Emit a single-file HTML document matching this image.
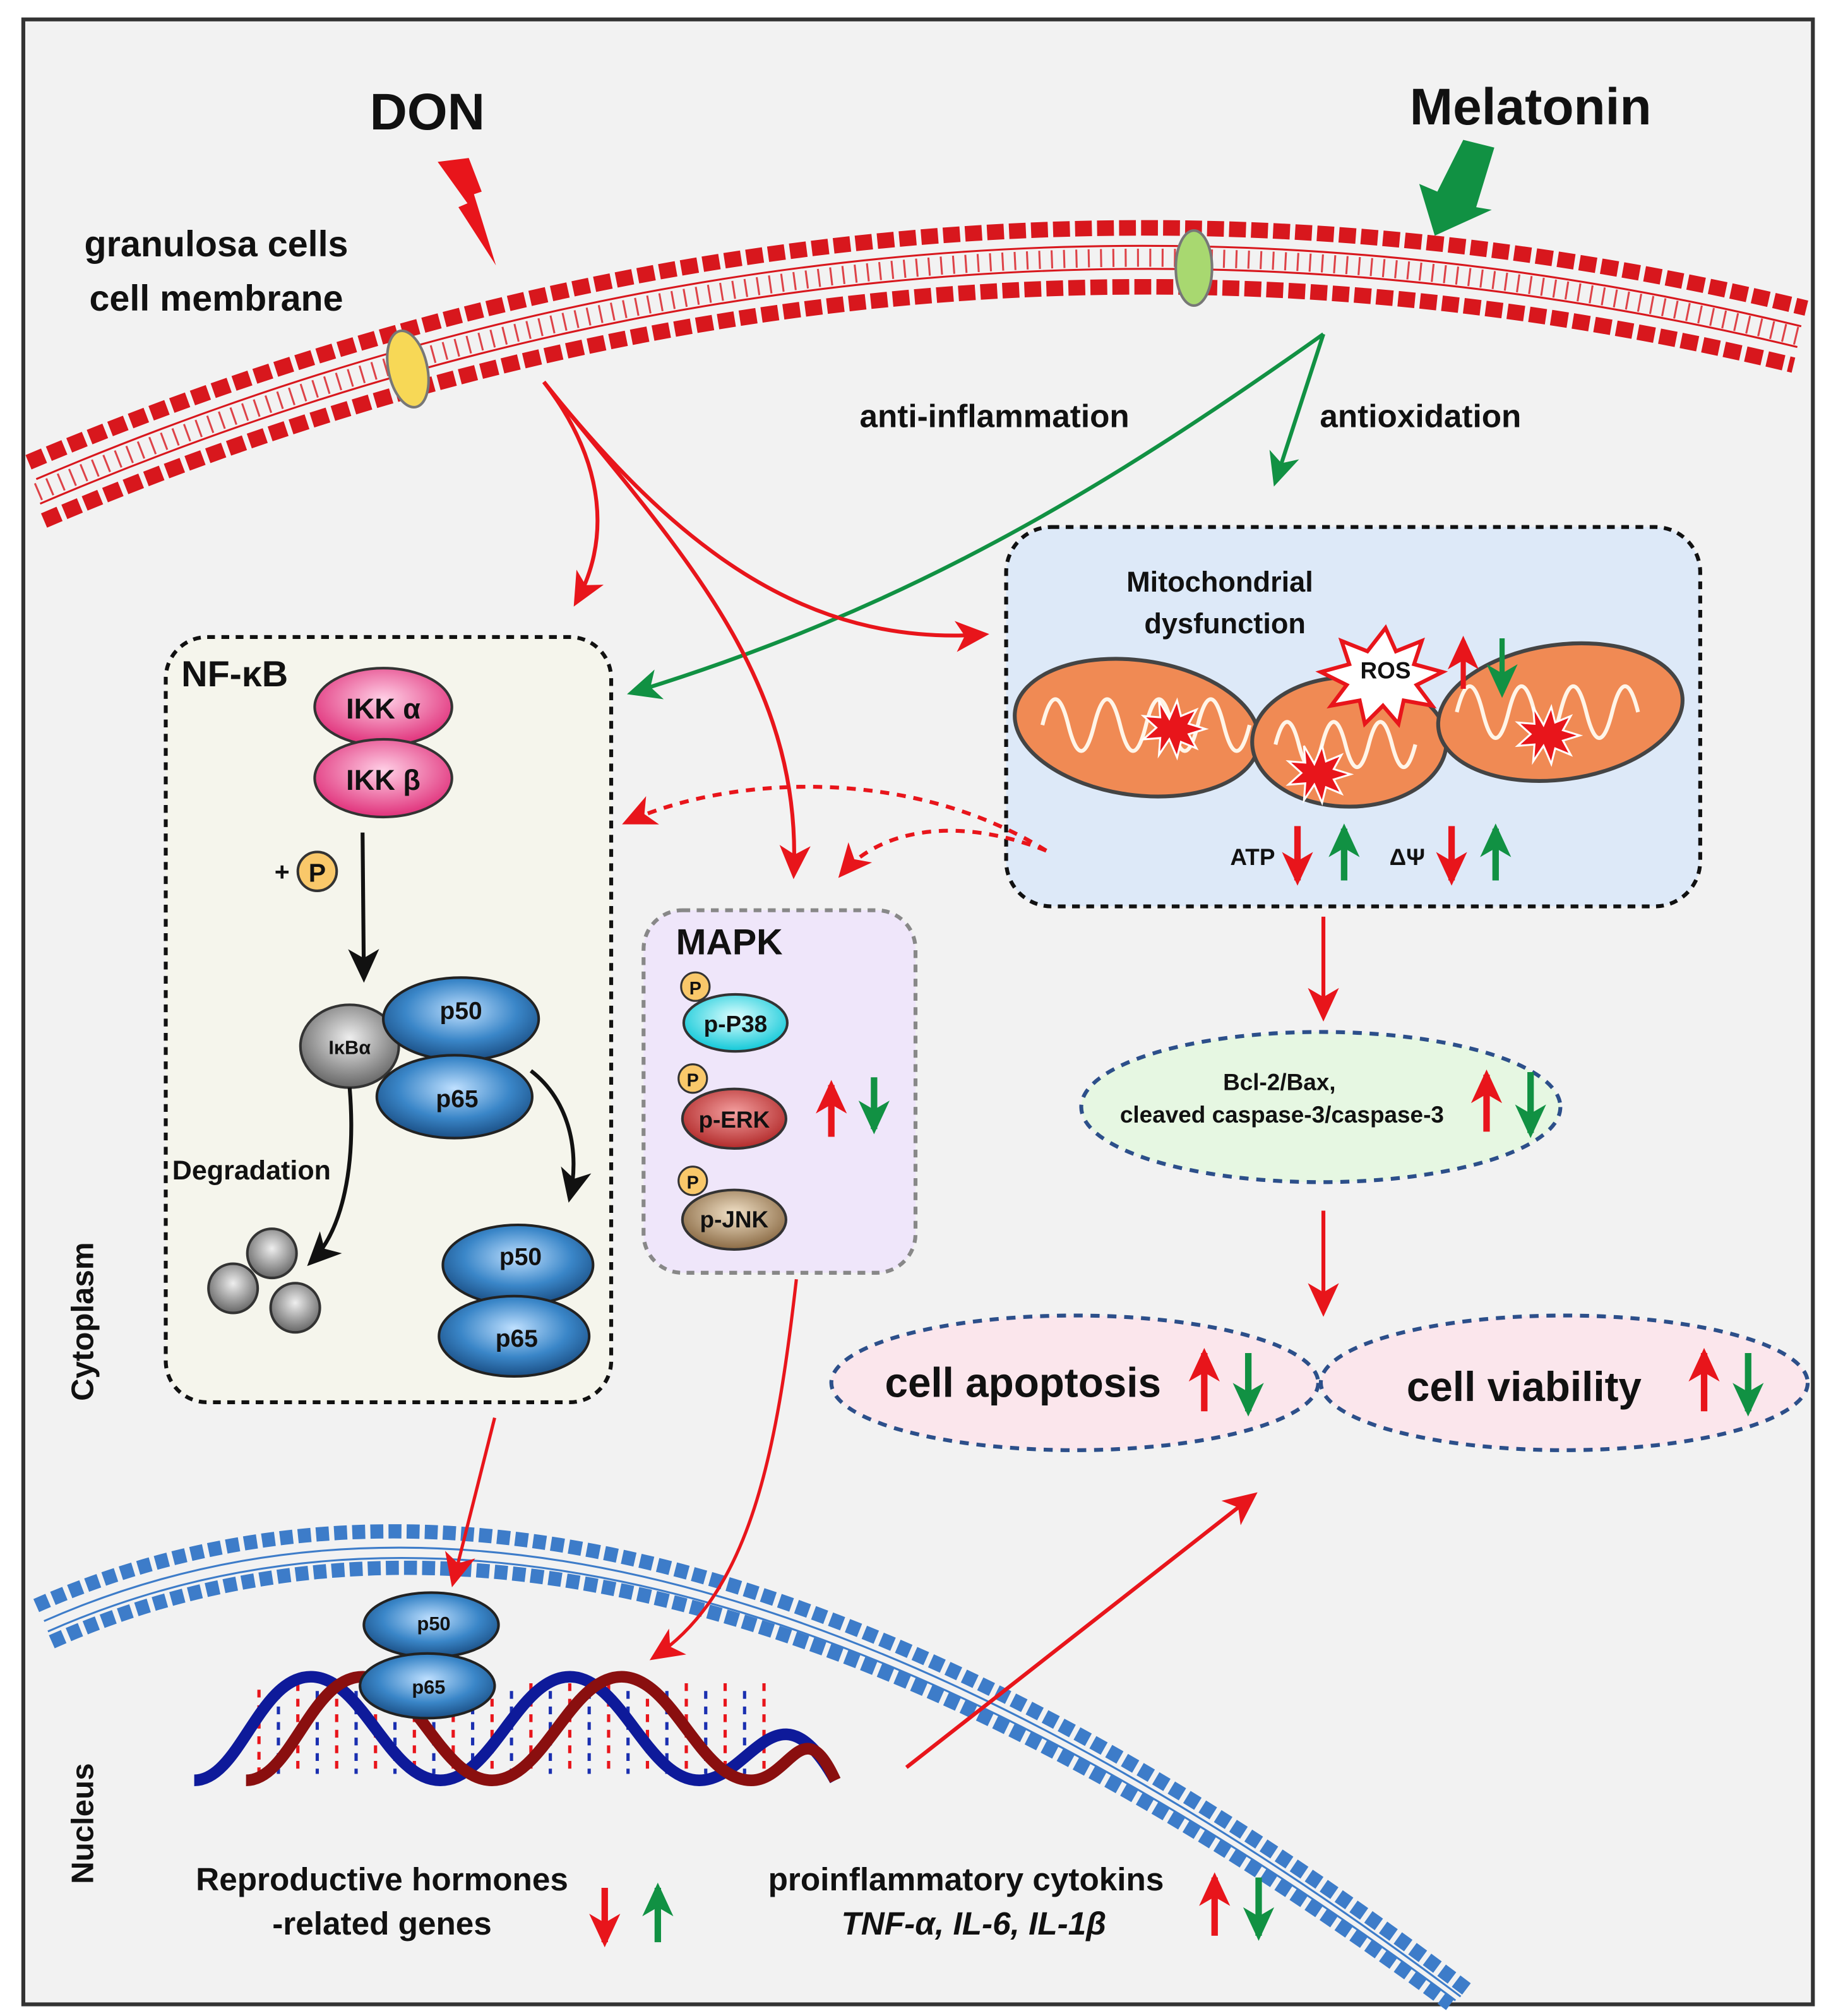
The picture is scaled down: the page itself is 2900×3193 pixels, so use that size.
<!DOCTYPE html>
<html><head><meta charset="utf-8">
<style>
html,body{margin:0;padding:0;background:#fff;}
svg{display:block;}
text{font-family:"Liberation Sans",Arial,sans-serif;font-weight:bold;fill:#111;}
</style></head>
<body>
<svg width="2900" height="3193" viewBox="0 0 1414 1557" preserveAspectRatio="none" xmlns="http://www.w3.org/2000/svg">
<defs>
<marker id="ar" markerWidth="10" markerHeight="10" refX="8" refY="5" orient="auto" markerUnits="userSpaceOnUse" viewBox="0 0 10 10"><path d="M0,0 L10,5 L0,10 L3,5 z" fill="#e8151b"/></marker>
<marker id="arL" markerWidth="28" markerHeight="28" refX="22" refY="14" orient="auto" markerUnits="userSpaceOnUse" viewBox="0 0 28 28"><path d="M0,2 L26,14 L0,26 L7,14 z" fill="#e8151b"/></marker>
<marker id="agL" markerWidth="28" markerHeight="28" refX="22" refY="14" orient="auto" markerUnits="userSpaceOnUse" viewBox="0 0 28 28"><path d="M0,2 L26,14 L0,26 L7,14 z" fill="#119143"/></marker>
<marker id="abL" markerWidth="28" markerHeight="28" refX="22" refY="14" orient="auto" markerUnits="userSpaceOnUse" viewBox="0 0 28 28"><path d="M0,2 L26,14 L0,26 L7,14 z" fill="#111"/></marker>
<radialGradient id="gBlue" cx="50%" cy="40%" r="60%"><stop offset="0" stop-color="#bfe0ff"/><stop offset="0.6" stop-color="#3a86c8"/><stop offset="1" stop-color="#1b4f85"/></radialGradient>
<radialGradient id="gPink" cx="50%" cy="40%" r="60%"><stop offset="0" stop-color="#ffd0e6"/><stop offset="1" stop-color="#e0307a"/></radialGradient>
<radialGradient id="gGray" cx="50%" cy="40%" r="60%"><stop offset="0" stop-color="#eee"/><stop offset="1" stop-color="#666"/></radialGradient>
<radialGradient id="gCyan" cx="50%" cy="40%" r="60%"><stop offset="0" stop-color="#e0ffff"/><stop offset="1" stop-color="#10c8d8"/></radialGradient>
<radialGradient id="gRed" cx="50%" cy="40%" r="60%"><stop offset="0" stop-color="#f4a0a0"/><stop offset="1" stop-color="#b22a2a"/></radialGradient>
<radialGradient id="gBrown" cx="50%" cy="40%" r="60%"><stop offset="0" stop-color="#f2e2c8"/><stop offset="1" stop-color="#8a6a44"/></radialGradient>
</defs>

<rect x="18" y="15" width="1382" height="1533" fill="#f2f2f2" stroke="#333" stroke-width="3"/>

<!-- cell membrane -->
<g fill="none">
<path d="M22,357 Q700,70 1395,238" stroke="#d8171d" stroke-width="12" stroke-dasharray="13 4"/>
<path d="M34,402 Q700,117 1385,282" stroke="#d8171d" stroke-width="12" stroke-dasharray="13 4"/>
<path d="M28,370 Q700,84 1391,252" stroke="#d8171d" stroke-width="1.5"/>
<path d="M31,389 Q700,103 1388,268" stroke="#d8171d" stroke-width="1.5"/>
<path d="M29,380 Q700,94 1390,260" stroke="#d8171d" stroke-width="14" stroke-dasharray="1.5 8" opacity="0.8"/>
</g>
<ellipse cx="315" cy="285" rx="15" ry="30" fill="#f7d856" stroke="#777" stroke-width="2" transform="rotate(-12 315 285)"/>
<ellipse cx="922" cy="207" rx="14" ry="29" fill="#a8d870" stroke="#777" stroke-width="2"/>

<!-- nucleus membrane -->
<g fill="none">
<path d="M28,1240 Q480,1040 1135,1538" stroke="#3d7cc9" stroke-width="11" stroke-dasharray="10 4"/>
<path d="M40,1268 Q480,1072 1120,1548" stroke="#3d7cc9" stroke-width="11" stroke-dasharray="10 4"/>
<path d="M34,1252 Q480,1055 1128,1542" stroke="#3d7cc9" stroke-width="1.5"/>
<path d="M37,1260 Q480,1064 1124,1545" stroke="#3d7cc9" stroke-width="1.5"/>
</g>

<text x="330" y="100" font-size="40" text-anchor="middle">DON</text>
<text x="1182" y="96" font-size="40" text-anchor="middle">Melatonin</text>
<path d="M338,125 L362,122 L372,148 L366,150 L383,205 L354,160 L361,157 Z" fill="#e8151b"/>
<path d="M1130,108 L1154,114 L1140,160 L1152,162 L1108,182 L1096,142 L1110,148 Z" fill="#119143"/>

<text x="167" y="198" font-size="28" text-anchor="middle">granulosa cells</text>
<text x="167" y="240" font-size="28" text-anchor="middle">cell membrane</text>

<text x="768" y="330" font-size="25" text-anchor="middle">anti-inflammation</text>
<text x="1097" y="330" font-size="25" text-anchor="middle">antioxidation</text>

<!-- green lines -->
<path d="M1022,258 C850,380 700,470 488,535" stroke="#119143" stroke-width="3" fill="none" marker-end="url(#agL)"/>
<path d="M1022,258 L985,372" stroke="#119143" stroke-width="3" fill="none" marker-end="url(#agL)"/>

<!-- red lines from DON -->
<path d="M420,295 C470,360 470,420 445,465" stroke="#e8151b" stroke-width="3" fill="none" marker-end="url(#arL)"/>
<path d="M420,295 C520,420 620,520 613,675" stroke="#e8151b" stroke-width="3" fill="none" marker-end="url(#arL)"/>
<path d="M420,295 C520,420 620,500 760,490" stroke="#e8151b" stroke-width="3" fill="none" marker-end="url(#arL)"/>

<!-- NF-kB box -->
<rect x="128" y="492" width="344" height="591" rx="32" fill="#f5f5ec" stroke="#111" stroke-width="3" stroke-dasharray="6 5"/>
<text x="140" y="530" font-size="28">NF-κB</text>
<ellipse cx="296" cy="546" rx="53" ry="30" fill="url(#gPink)" stroke="#333" stroke-width="2"/>
<ellipse cx="296" cy="601" rx="53" ry="30" fill="url(#gPink)" stroke="#333" stroke-width="2"/>
<text x="296" y="555" font-size="22" text-anchor="middle">IKK α</text>
<text x="296" y="610" font-size="22" text-anchor="middle">IKK β</text>
<text x="212" y="680" font-size="20">+</text>
<circle cx="245" cy="673" r="15" fill="#f9c86a" stroke="#333" stroke-width="2"/>
<text x="245" y="681" font-size="20" text-anchor="middle">P</text>
<path d="M280,643 L281,755" stroke="#111" stroke-width="3" marker-end="url(#abL)"/>
<ellipse cx="270" cy="808" rx="38" ry="32" fill="url(#gGray)" stroke="#333" stroke-width="2"/>
<text x="270" y="814" font-size="15" font-weight="normal" text-anchor="middle">IκBα</text>
<ellipse cx="356" cy="787" rx="60" ry="32" fill="url(#gBlue)" stroke="#222" stroke-width="2"/>
<ellipse cx="351" cy="847" rx="60" ry="32" fill="url(#gBlue)" stroke="#222" stroke-width="2"/>
<text x="356" y="787" font-size="19" text-anchor="middle">p50</text>
<text x="353" y="855" font-size="19" text-anchor="middle">p65</text>
<path d="M410,827 C440,850 448,890 440,925" stroke="#111" stroke-width="3" fill="none" marker-end="url(#abL)"/>
<path d="M270,840 C275,900 265,950 240,975" stroke="#111" stroke-width="3" fill="none" marker-end="url(#abL)"/>
<text x="133" y="911" font-size="21">Degradation</text>
<circle cx="210" cy="968" r="19" fill="url(#gGray)" stroke="#333" stroke-width="2"/>
<circle cx="180" cy="995" r="19" fill="url(#gGray)" stroke="#333" stroke-width="2"/>
<circle cx="228" cy="1010" r="19" fill="url(#gGray)" stroke="#333" stroke-width="2"/>
<ellipse cx="400" cy="977" rx="58" ry="31" fill="url(#gBlue)" stroke="#222" stroke-width="2"/>
<ellipse cx="397" cy="1032" rx="58" ry="31" fill="url(#gBlue)" stroke="#222" stroke-width="2"/>
<text x="402" y="977" font-size="19" text-anchor="middle">p50</text>
<text x="399" y="1040" font-size="19" text-anchor="middle">p65</text>

<!-- MAPK box -->
<rect x="497" y="703" width="210" height="280" rx="30" fill="#efe6fa" stroke="#888" stroke-width="3" stroke-dasharray="6 5"/>
<text x="522" y="737" font-size="28">MAPK</text>
<ellipse cx="568" cy="790" rx="40" ry="22" fill="url(#gCyan)" stroke="#333" stroke-width="2"/>
<text x="568" y="797" font-size="18" text-anchor="middle">p-P38</text>
<circle cx="537" cy="762" r="11" fill="#f9c86a" stroke="#333" stroke-width="1.5"/><text x="537" y="768" font-size="14" text-anchor="middle">P</text>
<ellipse cx="567" cy="864" rx="40" ry="23" fill="url(#gRed)" stroke="#333" stroke-width="2"/>
<text x="567" y="871" font-size="18" text-anchor="middle">p-ERK</text>
<circle cx="535" cy="833" r="11" fill="#f9c86a" stroke="#333" stroke-width="1.5"/><text x="535" y="839" font-size="14" text-anchor="middle">P</text>
<ellipse cx="567" cy="942" rx="40" ry="23" fill="url(#gBrown)" stroke="#333" stroke-width="2"/>
<text x="567" y="948" font-size="18" font-weight="normal" text-anchor="middle">p-JNK</text>
<circle cx="535" cy="912" r="11" fill="#f9c86a" stroke="#333" stroke-width="1.5"/><text x="535" y="918" font-size="14" text-anchor="middle">P</text>
<path d="M642,878 L642,838" stroke="#e8151b" stroke-width="5" marker-end="url(#arL)"/>
<path d="M675,832 L675,872" stroke="#119143" stroke-width="5" marker-end="url(#agL)"/>

<!-- Mito box -->
<rect x="777" y="407" width="536" height="293" rx="35" fill="#dde9f8" stroke="#111" stroke-width="3" stroke-dasharray="6 5"/>
<text x="942" y="457" font-size="22" text-anchor="middle">Mitochondrial</text>
<text x="946" y="489" font-size="22" text-anchor="middle">dysfunction</text>
<g stroke="#444" stroke-width="3">
<ellipse cx="878" cy="562" rx="95" ry="52" fill="#f08a54" transform="rotate(8 878 562)"/>
<ellipse cx="1042" cy="573" rx="75" ry="50" fill="#f08a54"/>
<ellipse cx="1205" cy="550" rx="95" ry="52" fill="#f08a54" transform="rotate(-8 1205 550)"/>
</g>
<g fill="none" stroke="#fff5e8" stroke-width="3">
<path d="M805,560 q10,-40 20,0 q10,40 20,0 q10,-40 20,0 q10,40 20,0 q10,-40 20,0 q10,40 20,0 q10,-40 20,0 q10,40 20,0"/>
<path d="M985,575 q9,-35 18,0 q9,35 18,0 q9,-35 18,0 q9,35 18,0 q9,-35 18,0 q9,35 18,0"/>
<path d="M1125,550 q10,-40 20,0 q10,40 20,0 q10,-40 20,0 q10,40 20,0 q10,-40 20,0 q10,40 20,0 q10,-40 20,0"/>
</g>
<g fill="#e8151b" stroke="#fff" stroke-width="1.5">
<path d="M903,555 l6,-14 l3,12 l12,-5 l-6,11 l13,4 l-13,4 l6,11 l-12,-5 l-3,12 l-6,-14 l-8,12 l1,-13 l-13,1 l10,-9 l-10,-9 l13,1 l-1,-13z"/>
<path d="M1015,590 l6,-14 l3,12 l12,-5 l-6,11 l13,4 l-13,4 l6,11 l-12,-5 l-3,12 l-6,-14 l-8,12 l1,-13 l-13,1 l10,-9 l-10,-9 l13,1 l-1,-13z"/>
<path d="M1192,560 l6,-14 l3,12 l12,-5 l-6,11 l13,4 l-13,4 l6,11 l-12,-5 l-3,12 l-6,-14 l-8,12 l1,-13 l-13,1 l10,-9 l-10,-9 l13,1 l-1,-13z"/>
</g>
<path d="M1070,485 l8,18 l20,-8 l-6,18 l22,6 l-20,10 l12,16 l-22,-4 l-4,18 l-12,-14 l-14,14 l-4,-18 l-22,4 l12,-16 l-20,-10 l22,-6 l-6,-18 l20,8z" fill="#fff" stroke="#e8151b" stroke-width="3"/>
<text x="1070" y="524" font-size="18" text-anchor="middle">ROS</text>
<path d="M1130,532 L1130,495" stroke="#e8151b" stroke-width="4" marker-end="url(#arL)"/>
<path d="M1160,493 L1160,535" stroke="#119143" stroke-width="4" marker-end="url(#agL)"/>
<text x="950" y="668" font-size="18">ATP</text>
<path d="M1002,638 L1002,680" stroke="#e8151b" stroke-width="5" marker-end="url(#arL)"/>
<path d="M1038,680 L1038,640" stroke="#119143" stroke-width="5" marker-end="url(#agL)"/>
<text x="1073" y="668" font-size="18">ΔΨ</text>
<path d="M1121,638 L1121,680" stroke="#e8151b" stroke-width="5" marker-end="url(#arL)"/>
<path d="M1155,680 L1155,640" stroke="#119143" stroke-width="5" marker-end="url(#agL)"/>

<!-- dashed red from mito -->
<path d="M808,657 C700,590 560,600 484,635" stroke="#e8151b" stroke-width="3" fill="none" stroke-dasharray="7 6" marker-end="url(#arL)"/>
<path d="M808,657 C740,630 680,640 650,675" stroke="#e8151b" stroke-width="3" fill="none" stroke-dasharray="7 6" marker-end="url(#arL)"/>

<path d="M1022,708 L1022,785" stroke="#e8151b" stroke-width="3" marker-end="url(#arL)"/>
<ellipse cx="1020" cy="855" rx="185" ry="58" fill="#e6f7e2" stroke="#2c4f8a" stroke-width="3" stroke-dasharray="7 6"/>
<text x="988" y="842" font-size="18" text-anchor="middle">Bcl-2/Bax,</text>
<text x="990" y="867" font-size="18" text-anchor="middle">cleaved caspase-3/caspase-3</text>
<path d="M1148,874 L1148,830" stroke="#e8151b" stroke-width="5" marker-end="url(#arL)"/>
<path d="M1182,828 L1182,875" stroke="#119143" stroke-width="5" marker-end="url(#agL)"/>
<path d="M1022,935 L1022,1013" stroke="#e8151b" stroke-width="3" marker-end="url(#arL)"/>

<ellipse cx="830" cy="1068" rx="188" ry="52" fill="#fbe6ec" stroke="#2c4f8a" stroke-width="3" stroke-dasharray="7 6"/>
<ellipse cx="1208" cy="1068" rx="188" ry="52" fill="#fbe6ec" stroke="#2c4f8a" stroke-width="3" stroke-dasharray="7 6"/>
<text x="790" y="1079" font-size="32" text-anchor="middle">cell apoptosis</text>
<text x="1177" y="1082" font-size="32" text-anchor="middle">cell viability</text>
<path d="M930,1090 L930,1045" stroke="#e8151b" stroke-width="5" marker-end="url(#arL)"/>
<path d="M964,1045 L964,1090" stroke="#119143" stroke-width="5" marker-end="url(#agL)"/>
<path d="M1316,1090 L1316,1045" stroke="#e8151b" stroke-width="5" marker-end="url(#arL)"/>
<path d="M1350,1045 L1350,1090" stroke="#119143" stroke-width="5" marker-end="url(#agL)"/>

<text transform="translate(72,1082) rotate(-90)" font-size="24">Cytoplasm</text>
<text transform="translate(72,1455) rotate(-90)" font-size="24">Nucleus</text>

<!-- arrows to nucleus -->
<path d="M382,1095 L350,1222" stroke="#e8151b" stroke-width="2.5" marker-end="url(#arL)"/>
<path d="M615,988 C600,1120 580,1230 505,1280" stroke="#e8151b" stroke-width="2.5" fill="none" marker-end="url(#arL)"/>
<path d="M700,1365 L968,1155" stroke="#e8151b" stroke-width="3" marker-end="url(#arL)"/>

<!-- DNA -->
<g fill="none" stroke-width="9">
<g stroke-width="2.5">
<path d="M200,1305 L200,1370 M230,1300 L230,1370 M260,1300 L260,1370 M290,1300 L290,1370 M320,1300 L320,1370 M350,1300 L350,1370 M380,1300 L380,1370 M410,1300 L410,1370 M440,1300 L440,1370 M470,1300 L470,1370 M500,1300 L500,1370 M530,1300 L530,1370 M560,1300 L560,1370 M590,1300 L590,1370" stroke="#e8151b" stroke-dasharray="6 6"/>
<path d="M215,1300 L215,1370 M245,1300 L245,1370 M275,1300 L275,1370 M305,1300 L305,1370 M335,1300 L335,1370 M365,1300 L365,1370 M395,1300 L395,1370 M425,1300 L425,1370 M455,1300 L455,1370 M485,1300 L485,1370 M515,1300 L515,1370 M545,1300 L545,1370 M575,1300 L575,1370" stroke="#1a2fb0" stroke-dasharray="6 6" stroke-dashoffset="6"/>
</g>
<path d="M150,1375 C185,1375 200,1295 240,1295 C280,1295 300,1375 340,1375 C380,1375 400,1295 440,1295 C480,1295 500,1375 540,1375 C580,1375 600,1295 645,1375" stroke="#0e1a9a"/>
<path d="M190,1375 C225,1375 240,1295 280,1295 C320,1295 340,1375 380,1375 C420,1375 440,1295 480,1295 C520,1295 540,1375 580,1375 C610,1375 620,1320 645,1375" stroke="#8a0f0f"/>
</g>
<ellipse cx="333" cy="1255" rx="52" ry="25" fill="url(#gBlue)" stroke="#222" stroke-width="2"/>
<ellipse cx="330" cy="1302" rx="52" ry="25" fill="url(#gBlue)" stroke="#222" stroke-width="2"/>
<text x="335" y="1259" font-size="15" text-anchor="middle">p50</text>
<text x="331" y="1308" font-size="15" text-anchor="middle">p65</text>

<text x="295" y="1460" font-size="25" text-anchor="middle">Reproductive hormones</text>
<text x="295" y="1494" font-size="25" text-anchor="middle">-related genes</text>
<path d="M467,1458 L467,1500" stroke="#e8151b" stroke-width="5" marker-end="url(#arL)"/>
<path d="M508,1500 L508,1458" stroke="#119143" stroke-width="5" marker-end="url(#agL)"/>
<text x="746" y="1460" font-size="25" text-anchor="middle">proinflammatory cytokins</text>
<text x="752" y="1494" font-size="25" text-anchor="middle" font-style="italic">TNF-α, IL-6, IL-1β</text>
<path d="M938,1495 L938,1450" stroke="#e8151b" stroke-width="5" marker-end="url(#arL)"/>
<path d="M972,1450 L972,1495" stroke="#119143" stroke-width="5" marker-end="url(#agL)"/>
</svg>
</body></html>
